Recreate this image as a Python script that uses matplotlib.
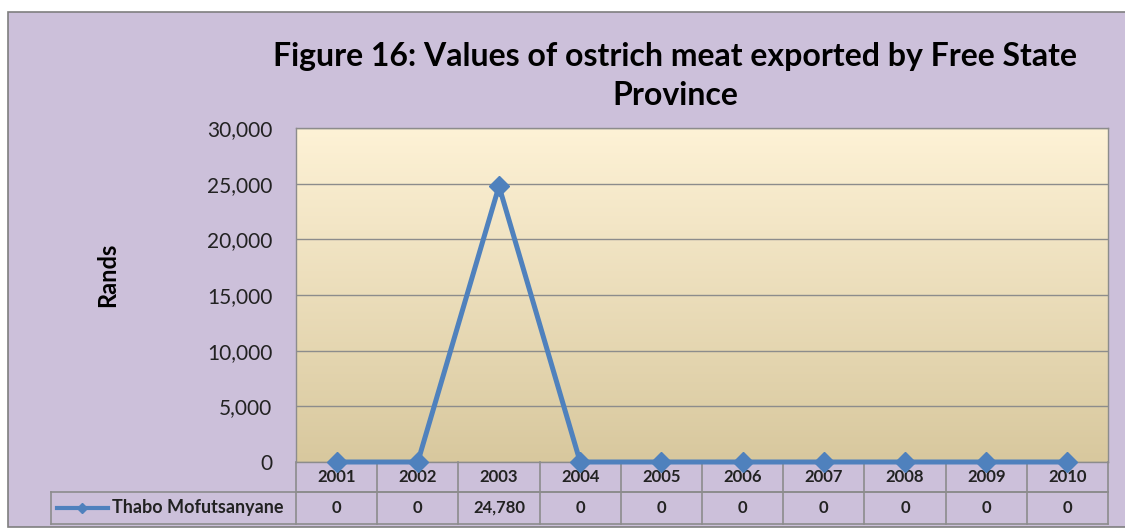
import matplotlib.pyplot as plt
import matplotlib.patches as patches
import matplotlib.transforms as mtransforms
import matplotlib.ticker as mticker
import numpy as np

plt.rcParams['font.family'] = ['Lato', 'DejaVu Sans']

years = ['2001', '2002', '2003', '2004', '2005', '2006', '2007', '2008', '2009', '2010']
values = [0, 0, 24780, 0, 0, 0, 0, 0, 0, 0]
series_name = 'Thabo Mofutsanyane'
title = 'Figure 16: Values of ostrich meat exported by Free State\nProvince'

purple = '#CCC0DA'
blue = '#4F81BD'
grey = '#8C8C8C'

fig = plt.figure(figsize=(11.25, 5.31), dpi=100)
fig.patch.set_facecolor('white')
fig.patches.append(patches.Rectangle((8 / 1125, 4 / 531), 1.02, 515 / 531,
                                     transform=fig.transFigure, facecolor=purple,
                                     edgecolor='#7F7F7F', linewidth=1.2, zorder=-5))

ax = fig.add_axes([296 / 1125, 69 / 531, 812 / 1125, 334 / 531])
ax.set_facecolor('none')
x = np.arange(len(years))
ax.set_xlim(-0.5, len(years) - 0.5)
ax.set_ylim(0, 30000)

# gradient background of the plot area
grad = np.linspace(0, 1, 256).reshape(-1, 1)
top = np.array([254, 242, 214]) / 255
bot = np.array([216, 200, 158]) / 255
img = top + (bot - top) * grad[:, :, None]
ax.imshow(img, extent=[0, 1, 0, 1], transform=ax.transAxes, aspect='auto', zorder=0)

ax.yaxis.set_major_locator(mticker.MultipleLocator(5000))
ax.yaxis.set_major_formatter(mticker.StrMethodFormatter('{x:,.0f}'))
ax.grid(axis='y', color=grey, linewidth=1, zorder=1)
ax.set_axisbelow(True)
ax.tick_params(axis='y', length=0, pad=17, labelsize=15, labelcolor='#222222')
ax.tick_params(axis='x', length=0, labelbottom=False)
for s in ax.spines.values():
    s.set_color(grey)
    s.set_linewidth(1)

ax.plot(x, values, color=blue, linewidth=3.6, marker='D', markersize=10,
        zorder=5, clip_on=False)

fig.text(108 / 1125, 1 - 275 / 531, 'Rands', rotation=90, ha='center', va='center',
         fontsize=17, fontweight='bold')

fig.text(675 / 1125, 1 - 76 / 531, title, ha='center', va='center',
         fontsize=23, fontweight='bold', linespacing=1.4)

# data table below the axis
trans = mtransforms.blended_transform_factory(ax.transData, ax.transAxes)
unit = 1 / 334
r1 = -30 * unit
r2 = -62 * unit
left = -0.5 - 245 / 81.2
line_kw = dict(color=grey, linewidth=1.2, transform=trans, clip_on=False)
ax.plot([-0.5, len(years) - 0.5], [r1, r1], **line_kw)
ax.plot([left, len(years) - 0.5], [r1, r1], **line_kw)
ax.plot([left, len(years) - 0.5], [r2, r2], **line_kw)
ax.plot([left, left], [r1, r2], **line_kw)
for b in np.arange(-0.5, len(years), 1.0):
    ax.plot([b, b], [0, r2], **line_kw)
for i, (yr, v) in enumerate(zip(years, values)):
    ax.text(i, r1 / 2, yr, transform=trans, ha='center', va='center',
            fontsize=12, fontweight='bold', color='#222222')
    ax.text(i, (r1 + r2) / 2, f'{v:,}', transform=trans, ha='center', va='center',
            fontsize=12, fontweight='bold', color='#222222')

# legend key inside the row label cell
ky = (r1 + r2) / 2
ax.plot([left + 6 / 81.2, left + 57 / 81.2], [ky, ky], color=blue, linewidth=3,
        transform=trans, clip_on=False)
ax.plot([left + 31 / 81.2], [ky], color=blue, marker='D', markersize=5,
        transform=trans, clip_on=False)
ax.text(left + 61 / 81.2, ky, series_name, transform=trans, ha='left', va='center',
        fontsize=13, fontweight='bold', color='#222222')

fig.savefig('out.png', dpi=100, facecolor=fig.get_facecolor())
